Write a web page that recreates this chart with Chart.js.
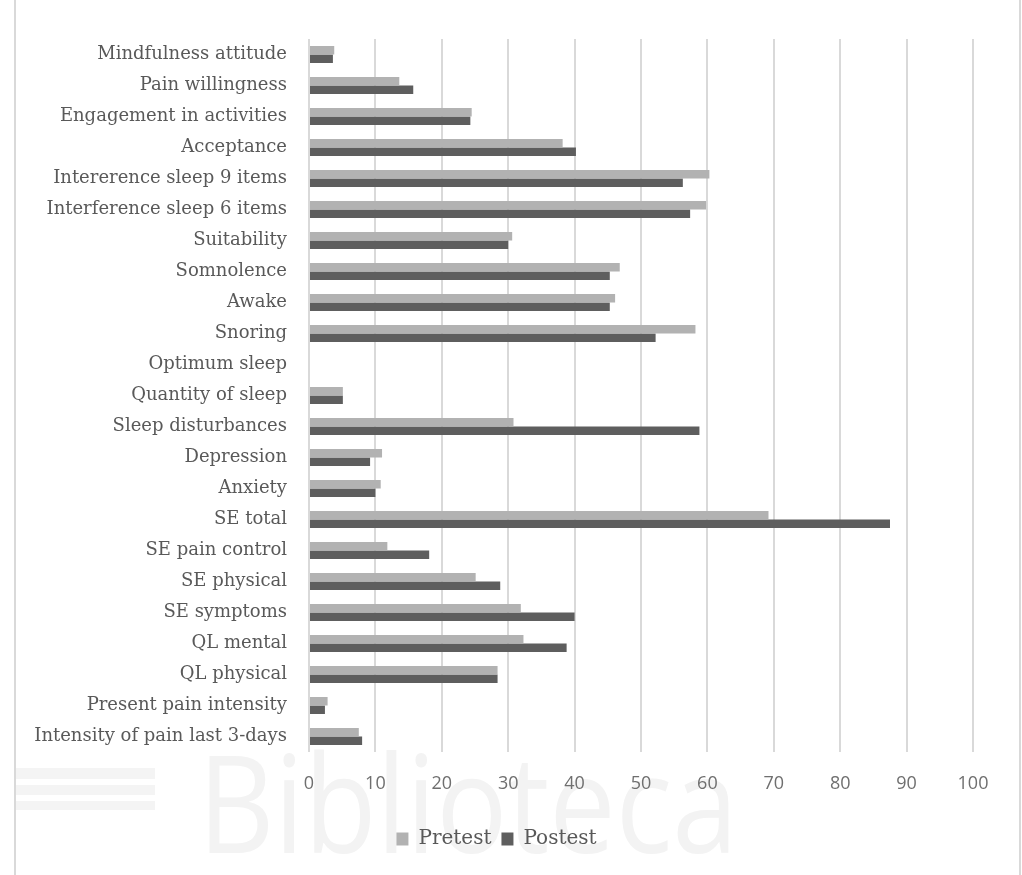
<!DOCTYPE html>
<html>
<head>
<meta charset="utf-8">
<script src="https://cdn.jsdelivr.net/npm/chart.js@4"></script>
<style>
  html, body { margin: 0; padding: 0; background: #fff; }
  #wrap { position: absolute; left: 0; top: 0; width: 1022px; height: 875px; }
</style>
</head>
<body>
<div id="wrap"><canvas id="chart"></canvas></div>
<script>
// categories, top to bottom as in the figure
const categories = [
  'Mindfulness attitude', 'Pain willingness', 'Engagement in activities', 'Acceptance',
  'Intererence sleep 9 items', 'Interference sleep 6 items', 'Suitability', 'Somnolence',
  'Awake', 'Snoring', 'Optimum sleep', 'Quantity of sleep', 'Sleep disturbances',
  'Depression', 'Anxiety', 'SE total', 'SE pain control', 'SE physical', 'SE symptoms',
  'QL mental', 'QL physical', 'Present pain intensity', 'Intensity of pain last 3-days'
];
const pretest = [3.8, 13.6, 24.5, 38.2, 60.3, 59.8, 30.6, 46.8, 46.1, 58.2, 0, 5.1, 30.8,
  11.0, 10.8, 69.2, 11.8, 25.1, 31.9, 32.3, 28.4, 2.8, 7.5];
const postest = [3.6, 15.7, 24.3, 40.2, 56.3, 57.4, 30.0, 45.3, 45.3, 52.2, 0, 5.1, 58.8,
  9.2, 10.0, 87.5, 18.1, 28.8, 40.0, 38.8, 28.4, 2.4, 8.0];
const seriesNames = ['Pretest', 'Postest'];
const xTicks = [0, 10, 20, 30, 40, 50, 60, 70, 80, 90, 100];

// faint frame + library watermark behind the chart
const background = {
  id: 'background',
  beforeDraw(chart) {
    const ctx = chart.ctx;
    ctx.save();
    ctx.fillStyle = '#f4f4f4';
    ctx.fillRect(15, 768, 140, 11);
    ctx.fillRect(15, 785, 140, 10);
    ctx.fillRect(15, 801, 140, 9);
    ctx.font = '400 136px "Open Sans"';
    ctx.textBaseline = 'alphabetic';
    ctx.fillStyle = '#f3f3f3';
    ctx.fillText('Biblioteca', 198, 853, 540);
    ctx.strokeStyle = '#d9d9d9';
    ctx.lineWidth = 2;
    ctx.beginPath();
    ctx.moveTo(15, 0); ctx.lineTo(15, 875);
    ctx.moveTo(1020, 0); ctx.lineTo(1020, 875);
    ctx.stroke();
    ctx.restore();
  }
};

new Chart(document.getElementById('chart'), {
  type: 'bar',
  data: {
    labels: categories,
    datasets: [
      { label: seriesNames[0], data: pretest, backgroundColor: '#b2b2b2' },
      { label: seriesNames[1], data: postest, backgroundColor: '#5e5e5e' }
    ]
  },
  options: {
    indexAxis: 'y',
    responsive: true,
    maintainAspectRatio: false,
    animation: false,
    datasets: { bar: { categoryPercentage: 0.55, barPercentage: 1 } },
    layout: { padding: { top: 39, right: 49, bottom: 16, left: 20 } },
    scales: {
      y: {
        grid: { display: false },
        border: { display: false },
        ticks: { color: '#595959', padding: 14, font: { family: 'DejaVu Serif', size: 18 } },
        afterFit(scale) { scale.width = 289; }
      },
      x: {
        min: 0,
        max: 100,
        afterBuildTicks(scale) { scale.ticks = xTicks.map(v => ({ value: v })); },
        grid: { color: '#d9d9d9', lineWidth: 2, drawTicks: false },
        border: { display: false },
        ticks: { color: '#6f6f6f', padding: 21, font: { family: 'Open Sans', size: 18 } },
        afterFit(scale) { scale.height = 67; }
      }
    },
    plugins: {
      legend: {
        position: 'bottom',
        labels: {
          color: '#595959',
          boxWidth: 12,
          boxHeight: 13,
          padding: 10,
          font: { family: 'DejaVu Serif', size: 20 }
        }
      },
      tooltip: { enabled: false }
    }
  },
  plugins: [background]
});
</script>
</body>
</html>
